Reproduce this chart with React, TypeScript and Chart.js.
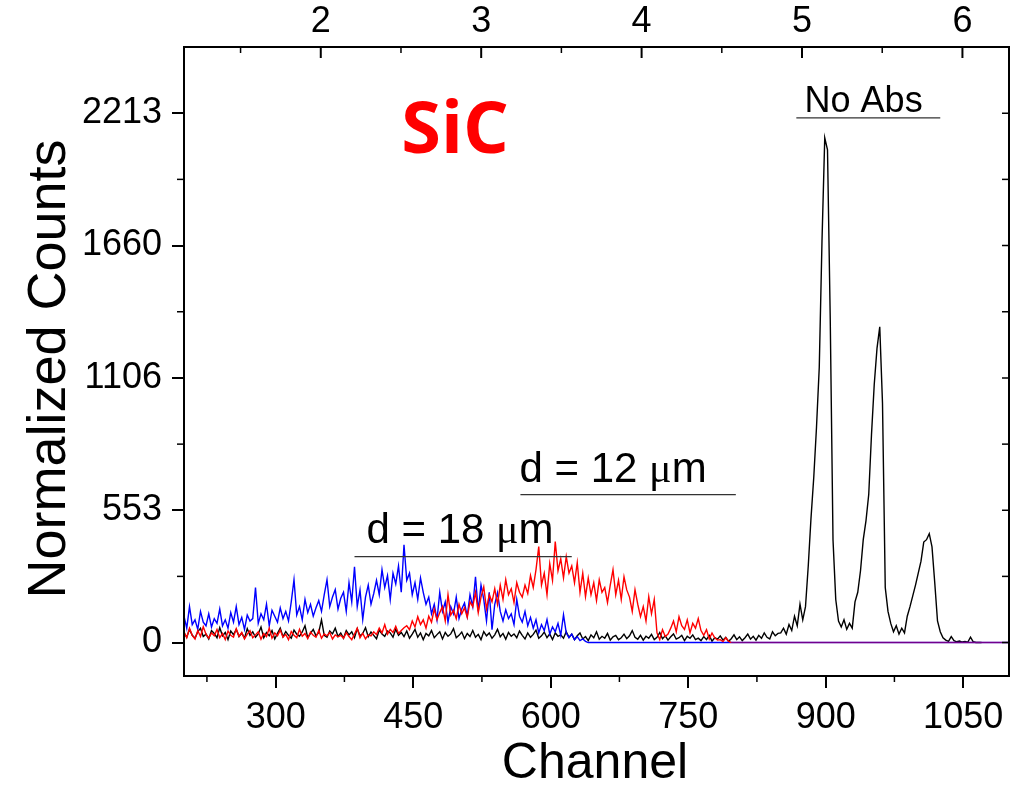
import React, { useEffect, useRef } from "react";
import { Chart, registerables } from "chart.js";

Chart.register(...registerables);

// ---- Data (channel grid: 200, 203, 206, ...) ----
const CH_START = 200;
const CH_STEP = 3;
const TAIL_END = 1100; // absorber spectra are zero up to the end of the range

const X_MIN = 200;
const X_MAX = 1100;
const Y_MIN = -140;
const Y_MAX = 2490;
const E_MIN = 1.1474; // MeV at channel 200
const E_MAX = 6.2903; // MeV at channel 1100

const channelTicks = [300, 450, 600, 750, 900, 1050];
const countTicks = [0, 553, 1106, 1660, 2213];
const energyTicks = [2, 3, 4, 5, 6];

// No absorber (black)
const noAbsCounts = [
  // 200-437
  40, 22, 55, 30, 18, 45, 60, 25, 35, 15, 50, 38, 20, 62, 28, 42, 12, 48, 33, 55,
  25, 40, 18, 58, 30, 45, 22, 36, 65, 20, 42, 28, 50, 15, 38, 60, 24, 46, 30, 18,
  52, 35, 26, 44, 70, 20, 38, 55, 28, 42, 95, 30, 22, 48, 36, 60, 25, 40, 18, 50,
  32, 45, 20, 58, 28, 38, 62, 24, 44, 30, 16, 52, 36, 26, 48, 40, 22, 56, 30, 42,
  // 440-617
  25, 48, 18, 35, 55, 22, 40, 12, 38, 28, 50, 20, 33, 45, 15, 42, 26, 36, 58, 20,
  30, 44, 16, 38, 25, 50, 22, 34, 12, 46, 28, 40, 18, 32, 55, 24, 38, 14, 42, 26,
  36, 20, 48, 30, 15, 40, 22, 34, 52, 18, 28, 44, 20, 36, 12, 40, 26, 32, 18, 45,
  // 620-758
  22, 35, 12, 28, 40, 15, 25, 8, 32, 20, 45, 14, 26, 18, 38, 10, 24, 30, 12, 20,
  35, 16, 28, 50, 22, 14, 30, 10, 26, 18, 34, 12, 22, 42, 16, 28, 10, 24, 36, 14,
  20, 30, 8, 26, 18, 32, 12,
  // 761-848
  18, 8, 25, 12, 30, 6, 20, 14, 28, 10, 22, 5, 16, 32, 12, 24, 8, 20, 35, 14,
  26, 10, 30, 18, 40, 22, 15, 45, 28, 38,
  // 851-875
  40, 60, 35, 75, 50, 110, 70, 160, 95,
  // 878-1070
  150, 320, 520, 690, 900, 1150, 1680, 2110, 2060, 1350,
  430, 180, 90, 65, 95, 55, 80, 60, 170, 210,
  300, 430, 510, 620, 870, 1080, 1230, 1320, 1000, 230,
  130, 80, 45, 70, 35, 60, 40, 110, 150, 195,
  240, 290, 340, 420, 430, 455, 400, 250, 90, 45,
  20, 10, 5, 25, 8, 3, 6, 2, 4, 1,
  22, 3, 0, 0, 0,
];

// d = 18 um (blue)
const d18Counts = [
  // 200-236
  110, 60, 150, 75, 95, 55, 130, 85, 70, 120, 65, 100, 80,
  // 239-272
  140, 70, 95, 60, 125, 85, 150, 75, 105, 55, 115, 90,
  // 275-308
  100, 230, 80, 120, 95, 160, 70, 135, 110, 85, 145, 100,
  // 311-344
  130, 90, 170, 263, 115, 150, 95, 180, 125, 160, 110, 145,
  // 347-371
  175, 130, 200, 263, 150, 190, 221, 140, 185,
  // 374-407
  210, 130, 250, 170, 317, 150, 220, 96, 190, 240, 160, 205,
  // 410-443
  260, 200, 305, 230, 280, 180, 290, 245, 320, 210, 409, 260,
  // 446-464
  290, 200, 250, 180, 270, 210, 160,
  // 467-506
  190, 120, 160, 95, 210, 130, 170, 85, 150, 120, 190, 100, 140, 165,
  // 509-542
  110, 200, 150, 275, 130, 240, 180, 90, 210, 54, 160, 208,
  // 545-578
  130, 90, 137, 100, 120, 75, 180, 110, 85, 130, 70, 105,
  // 581-614
  60, 95, 40, 75, 50, 96, 35, 65, 45, 80, 30, 116,
  // 617-641
  40, 20, 35, 12, 25, 8, 15, 5, 0,
];

// d = 12 um (red)
const d12Counts = [
  // 200-368
  45, 20, 60, 30, 15, 50, 25, 66, 35, 18, 40, 28, 55, 20, 38, 12, 48, 30, 22, 58,
  26, 42, 15, 35, 50, 20, 32, 45, 14, 38, 25, 60, 18, 40, 28, 52, 22, 34, 12, 46,
  30, 20, 55, 26, 38, 16, 44, 30, 22, 50, 18, 36, 28, 42, 15, 32, 24,
  // 371-404
  30, 18, 41, 25, 12, 35, 60, 20, 38, 15, 32, 28,
  // 407-440
  45, 33, 60, 40, 75, 35, 55, 42, 68, 38, 50, 62,
  // 443-464
  70, 54, 90, 65, 108, 75, 95, 60,
  // 467-512
  110, 85, 140, 95, 125, 150, 90, 200, 115, 135, 100, 160, 120, 145, 105, 170,
  // 515-542
  150, 210, 125, 190, 233, 140, 200, 170, 225, 160,
  // 545-578
  240, 180, 263, 200, 225, 167, 250, 210, 190, 240, 205, 280,
  // 581-605
  230, 305, 401, 240, 290, 200, 330, 260, 422,
  // 608-623
  300, 350, 270, 359, 290, 320,
  // 626-641
  250, 334, 210, 290, 192, 270,
  // 644-662
  200, 250, 175, 262, 210, 230, 167,
  // 665-683
  240, 305, 200, 260, 180, 275, 220,
  // 686-698
  190, 130, 221, 160, 108,
  // 701-713
  150, 90, 192, 120, 180,
  // 716-728
  40, 12, 54, 25, 35,
  // 731-764
  60, 90, 45, 108, 70, 55, 95, 40, 80, 60, 100, 50,
  // 767-782
  30, 54, 15, 40, 20, 10,
  // 785-797
  12, 4, 20, 6, 0,
];

function toPoints(values: number[], tail: boolean) {
  const pts = values.map((v, i) => ({ x: CH_START + i * CH_STEP, y: v }));
  if (tail) pts.push({ x: TAIL_END, y: 0 });
  return pts;
}

function midpoints(vals: number[]) {
  const r: number[] = [];
  for (let i = 0; i < vals.length - 1; i++) r.push((vals[i] + vals[i + 1]) / 2);
  return r;
}

const SANS = "'Liberation Sans', Arial, sans-serif";
const NARROW = "'Liberation Sans Narrow', 'Liberation Sans', Arial, sans-serif";
const SERIF = "'Liberation Serif', 'Times New Roman', serif";

const decorPlugin = {
  id: "decor",
  afterDraw(chart: any) {
    const { ctx, chartArea: a, scales } = chart;
    const xs = scales.x;
    const ys = scales.y;
    const ts = scales.x2;
    ctx.save();
    ctx.strokeStyle = "#000";
    ctx.fillStyle = "#000";
    // frame
    ctx.lineWidth = 2;
    ctx.strokeRect(a.left, a.top, a.right - a.left, a.bottom - a.top);

    const line = (x1: number, y1: number, x2: number, y2: number, w: number) => {
      ctx.lineWidth = w;
      ctx.beginPath();
      ctx.moveTo(x1, y1);
      ctx.lineTo(x2, y2);
      ctx.stroke();
    };

    // bottom minor ticks (outward)
    const cStep = channelTicks[1] - channelTicks[0];
    const bMinor = [channelTicks[0] - cStep / 2, ...midpoints(channelTicks), channelTicks[channelTicks.length - 1] + cStep / 2];
    bMinor.forEach((v) => {
      if (v <= X_MIN || v >= X_MAX) return;
      const px = xs.getPixelForValue(v);
      line(px, a.bottom, px, a.bottom + 6, 1.5);
    });
    // left minor ticks (outward)
    midpoints(countTicks).forEach((v) => {
      const py = ys.getPixelForValue(v);
      line(a.left, py, a.left - 7, py, 1.5);
    });
    // top ticks (inward)
    const eStep = energyTicks[1] - energyTicks[0];
    energyTicks.forEach((v) => {
      const px = ts.getPixelForValue(v);
      line(px, a.top, px, a.top + 11, 2);
    });
    [energyTicks[0] - eStep / 2, ...midpoints(energyTicks), energyTicks[energyTicks.length - 1] + eStep / 2].forEach((v) => {
      if (v <= E_MIN || v >= E_MAX) return;
      const px = ts.getPixelForValue(v);
      line(px, a.top, px, a.top + 6, 1.5);
    });
    // right ticks (inward)
    [...countTicks, ...midpoints(countTicks)].forEach((v) => {
      const py = ys.getPixelForValue(v);
      line(a.right, py, a.right - 7, py, 1.5);
    });

    // axis titles
    ctx.textBaseline = "alphabetic";
    ctx.textAlign = "center";
    ctx.font = `50px ${SANS}`;
    ctx.fillText("Channel", 595, 778);
    ctx.save();
    ctx.translate(65, 369);
    ctx.rotate(-Math.PI / 2);
    ctx.font = `54px ${SANS}`;
    ctx.fillText("Normalized Counts", 0, 0);
    ctx.restore();

    // annotations (data coordinates)
    ctx.textAlign = "left";
    // SiC
    ctx.fillStyle = "#ff0000";
    ctx.font = `bold 72px 'Open Sans', ${SANS}`;
    ctx.fillText("SiC", xs.getPixelForValue(437), ys.getPixelForValue(2045));
    ctx.fillStyle = "#000";

    // No Abs
    ctx.font = `36px ${SANS}`;
    ctx.fillText("No Abs", xs.getPixelForValue(877), ys.getPixelForValue(2218));
    ctx.strokeStyle = "#333";
    line(xs.getPixelForValue(868), ys.getPixelForValue(2194), xs.getPixelForValue(1025), ys.getPixelForValue(2194), 1.3);

    const dLabel = (num: string, ch: number, cnt: number) => {
      let px = xs.getPixelForValue(ch);
      const py = ys.getPixelForValue(cnt);
      ctx.font = `42px ${SANS}`;
      const a1 = `d = ${num} `;
      ctx.fillText(a1, px, py);
      px += ctx.measureText(a1).width;
      ctx.font = `42px ${SERIF}`;
      ctx.fillText("\u03bc", px, py);
      px += ctx.measureText("\u03bc").width;
      ctx.font = `42px ${SANS}`;
      ctx.fillText("m", px, py);
    };
    dLabel("12", 566, 672);
    line(xs.getPixelForValue(567), ys.getPixelForValue(618), xs.getPixelForValue(802), ys.getPixelForValue(618), 1.3);
    dLabel("18", 399, 418);
    line(xs.getPixelForValue(386), ys.getPixelForValue(359), xs.getPixelForValue(623), ys.getPixelForValue(359), 1.3);

    ctx.restore();
  },
};

export default function App() {
  const canvasRef = useRef<HTMLCanvasElement | null>(null);

  useEffect(() => {
    const canvas = canvasRef.current;
    if (!canvas) return;
    const chart = new Chart(canvas, {
      type: "line",
      data: {
        datasets: [
          {
            label: "d = 12 um",
            data: toPoints(d12Counts, true),
            borderColor: "#ff0000",
            borderWidth: 1.4,
            order: 0,
            segment: {
              // where the red spectrum is zero it lies over the blue baseline
              borderColor: (c: any) => (c.p0.parsed.y === 0 && c.p1.parsed.y === 0 ? "rgba(255,0,0,0.45)" : undefined),
            },
          },
          {
            label: "d = 18 um",
            data: toPoints(d18Counts, true),
            borderColor: "#0000ff",
            borderWidth: 1.4,
            order: 1,
          },
          {
            label: "No Abs",
            data: toPoints(noAbsCounts, false),
            borderColor: "#000000",
            borderWidth: 1.4,
            order: 2,
          },
        ],
      },
      options: {
        animation: false,
        responsive: false,
        devicePixelRatio: 1,
        parsing: true,
        elements: { point: { radius: 0 }, line: { tension: 0 } },
        layout: { padding: { top: 0, right: 13, bottom: 0, left: 0 } },
        plugins: { legend: { display: false }, tooltip: { enabled: false } },
        scales: {
          x: {
            type: "linear",
            position: "bottom",
            min: X_MIN,
            max: X_MAX,
            afterBuildTicks: (s: any) => {
              s.ticks = channelTicks.map((v) => ({ value: v }));
            },
            afterFit: (s: any) => {
              s.height = 111;
            },
            ticks: {
              autoSkip: false,
              maxRotation: 0,
              padding: 8,
              color: "#000",
              font: { family: NARROW, size: 36 },
              callback: (v: any) => String(v),
            },
            grid: { drawOnChartArea: false, drawTicks: true, tickLength: 12, color: "#000", lineWidth: 2 },
            border: { display: false },
          },
          x2: {
            type: "linear",
            position: "top",
            min: E_MIN,
            max: E_MAX,
            afterBuildTicks: (s: any) => {
              s.ticks = energyTicks.map((v) => ({ value: v }));
            },
            afterFit: (s: any) => {
              s.height = 47;
            },
            ticks: {
              autoSkip: false,
              maxRotation: 0,
              padding: 3,
              color: "#000",
              font: { family: NARROW, size: 36 },
              callback: (v: any) => String(v),
            },
            grid: { drawOnChartArea: false, drawTicks: false },
            border: { display: false },
          },
          y: {
            type: "linear",
            position: "left",
            min: Y_MIN,
            max: Y_MAX,
            afterBuildTicks: (s: any) => {
              s.ticks = countTicks.map((v) => ({ value: v }));
            },
            afterFit: (s: any) => {
              s.width = 184;
            },
            ticks: {
              padding: 10,
              color: "#000",
              font: { family: SANS, size: 36 },
              callback: (v: any) => String(v),
            },
            grid: { drawOnChartArea: false, drawTicks: true, tickLength: 12, color: "#000", lineWidth: 2 },
            border: { display: false },
          },
        },
      },
      plugins: [decorPlugin],
    });
    return () => chart.destroy();
  }, []);

  return (
    <div style={{ position: "absolute", left: 0, top: 0, width: 1022, height: 787, background: "#fff" }}>
      <canvas ref={canvasRef} width={1022} height={787} style={{ display: "block" }} />
    </div>
  );
}
